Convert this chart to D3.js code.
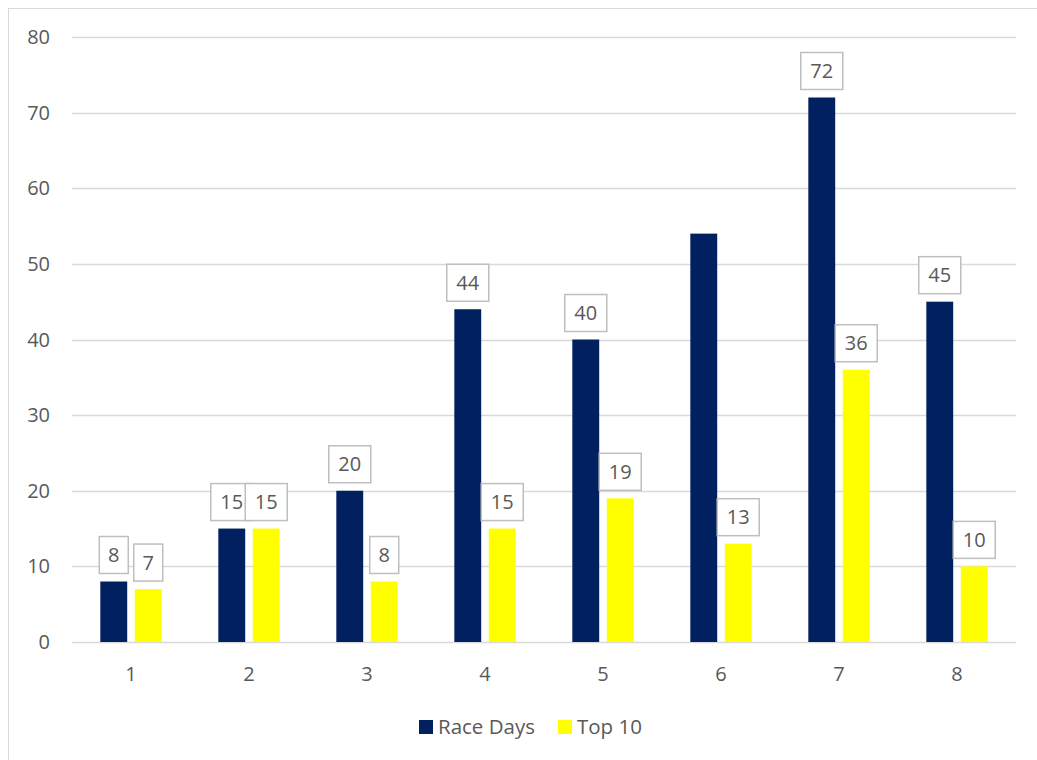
<!DOCTYPE html>
<html>
<head>
<meta charset="utf-8">
<script src="https://cdn.jsdelivr.net/npm/d3@7"></script>
<style>
  body { margin: 0; background: #fff; }
  svg { display: block; font-family: "Open Sans", sans-serif; }
</style>
</head>
<body>
<svg id="chart"></svg>
<script>
const categories = ["1", "2", "3", "4", "5", "6", "7", "8"];
const seriesNames = ["Race Days", "Top 10"];
const raceDays = [8, 15, 20, 44, 40, 54, 72, 45];
const top10 = [7, 15, 8, 15, 19, 13, 36, 10];
// which data labels are shown (Race Days for 6 has none)
const raceLabels = [true, true, true, true, true, false, true, true];
const top10Labels = [true, true, true, true, true, true, true, true];
const yTicks = [0, 10, 20, 30, 40, 50, 60, 70, 80];
const colors = ["#002060", "#ffff00"];

const width = 1037, height = 760;
const margin = { top: 37, right: 21, bottom: 118, left: 72 };
const innerW = width - margin.left - margin.right;
const innerH = height - margin.top - margin.bottom;
const fontSize = "20px";

const svg = d3.select("#chart").attr("width", width).attr("height", height);

// outer chart border
svg.append("rect")
    .attr("x", 8.5).attr("y", 8.5)
    .attr("width", 1040).attr("height", 760)
    .attr("fill", "none").attr("stroke", "#d9d9d9");

const g = svg.append("g").attr("transform", `translate(${margin.left},${margin.top})`);

const x0 = d3.scaleBand().domain(categories).range([0, innerW]).paddingInner(0.48).paddingOuter(0.24);
const x1 = d3.scaleBand().domain(seriesNames).range([0, x0.bandwidth()]).paddingInner(0.22);
const y = d3.scaleLinear().domain([0, 80]).range([innerH, 0]);

// gridlines
g.append("g").selectAll("line")
    .data(yTicks)
    .join("line")
    .attr("x1", 0).attr("x2", innerW)
    .attr("y1", d => Math.round(y(d)) + 0.5).attr("y2", d => Math.round(y(d)) + 0.5)
    .attr("stroke", "#d9d9d9").attr("stroke-width", 1.5);

// y labels
g.append("g").selectAll("text")
    .data(yTicks)
    .join("text")
    .attr("x", -22).attr("y", d => y(d))
    .attr("dy", "0.35em")
    .attr("text-anchor", "end")
    .attr("fill", "#595959")
    .style("font-size", fontSize)
    .text(d => d);

// x labels
g.append("g").selectAll("text")
    .data(categories)
    .join("text")
    .attr("x", d => x0(d) + x0.bandwidth() / 2)
    .attr("y", innerH + 32)
    .attr("dy", "0.35em")
    .attr("text-anchor", "middle")
    .attr("fill", "#595959")
    .style("font-size", fontSize)
    .text(d => d);

const rows = categories.map((c, i) => ({
    cat: c,
    vals: [
        { name: seriesNames[0], v: raceDays[i], show: raceLabels[i], color: colors[0] },
        { name: seriesNames[1], v: top10[i], show: top10Labels[i], color: colors[1] }
    ]
}));

const groups = g.append("g").selectAll("g")
    .data(rows)
    .join("g")
    .attr("transform", d => `translate(${x0(d.cat)},0)`);

groups.selectAll("rect")
    .data(d => d.vals)
    .join("rect")
    .attr("x", d => x1(d.name))
    .attr("y", d => y(d.v))
    .attr("width", x1.bandwidth())
    .attr("height", d => innerH - y(d.v))
    .attr("fill", d => d.color);

// data labels with boxes
const lbl = groups.selectAll("g.lbl")
    .data(d => d.vals.filter(v => v.show))
    .join("g")
    .attr("class", "lbl")
    .attr("transform", d => `translate(${x1(d.name) + x1.bandwidth() / 2},${y(d.v) - 8})`);

lbl.append("rect")
    .attr("x", d => -(String(d.v).length > 1 ? 21 : 14.5))
    .attr("y", -37)
    .attr("width", d => String(d.v).length > 1 ? 42 : 29)
    .attr("height", 37)
    .attr("fill", "#fff")
    .attr("stroke", "#bfbfbf")
    .attr("stroke-width", 1.5);

lbl.append("text")
    .attr("x", 0).attr("y", -18.5)
    .attr("dy", "0.35em")
    .attr("text-anchor", "middle")
    .attr("fill", "#595959")
    .style("font-size", fontSize)
    .text(d => d.v);

// legend
const legend = svg.append("g");
const legendItems = [
    { name: seriesNames[0], color: colors[0], x: 419 },
    { name: seriesNames[1], color: colors[1], x: 558 }
];
legend.selectAll("rect")
    .data(legendItems)
    .join("rect")
    .attr("x", d => d.x).attr("y", 720)
    .attr("width", 14).attr("height", 14)
    .attr("fill", d => d.color);
legend.selectAll("text")
    .data(legendItems)
    .join("text")
    .attr("x", d => d.x + 19).attr("y", 727)
    .attr("dy", "0.35em")
    .attr("fill", "#595959")
    .style("font-size", "20.5px")
    .text(d => d.name);
</script>
</body>
</html>
